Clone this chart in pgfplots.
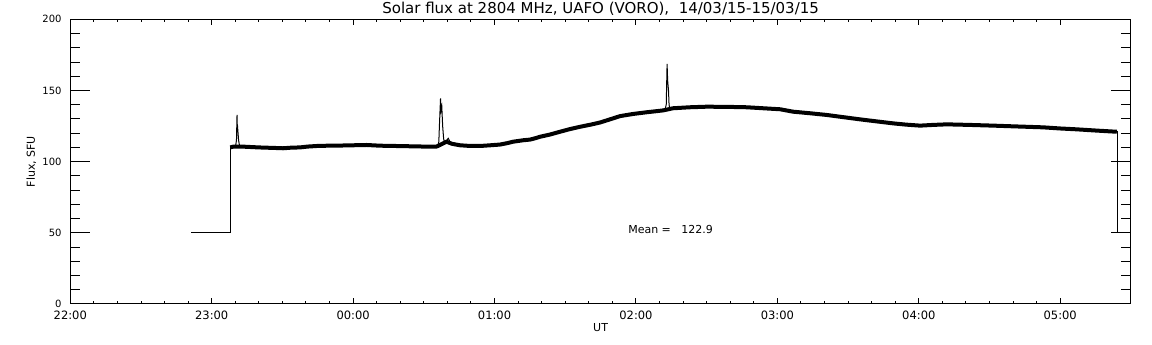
\documentclass[border=0pt]{standalone}
\usepackage{fontspec}
\setmainfont{DejaVu Sans}
\usepackage{pgfplots}
\pgfplotsset{compat=1.18}
\begin{document}
\begin{tikzpicture}
\pgfplotsset{
 every axis title shift=0pt,
 common/.style={
  scale only axis, width=1060.7pt, height=284.7pt,
  at={(0pt,0pt)}, anchor=south west,
  xmin=0, xmax=7.5, ymin=0, ymax=200,
  axis line style={line width=1pt, black},
  tick style={line width=1pt, black},
  tick align=inside, tick pos=both,
 }
}
\begin{axis}[common,
  xtick={0,...,7},
  xticklabels={22:00,23:00,00:00,01:00,02:00,03:00,04:00,05:00},
  minor x tick num=5,
  major tick length=6pt, minor tick length=2.7pt,
  ytick=\empty,
  xticklabel style={font=\fontsize{11.5}{13}\selectfont, anchor=base, inner sep=0pt, yshift=-16pt},
  title={Solar flux at 2804 MHz, UAFO (VORO),\ \ 14/03/15-15/03/15},
  title style={font=\fontsize{15}{17}\selectfont, at={(axis description cs:0.5,1)}, anchor=base, inner sep=0pt, yshift=5.8pt},
  xlabel={UT},
  xlabel style={font=\fontsize{11}{13}\selectfont, at={(axis description cs:0.5,-0.0843)}, anchor=center, inner sep=0pt},
  ylabel={Flux, SFU},
  ylabel style={font=\fontsize{11}{13}\selectfont, at={(axis description cs:-0.0368,0.5)}, anchor=center, inner sep=0pt},
]
% noisy band (drawn thick)
\addplot[black, line width=4pt, line join=round] coordinates {
(1.131,110) (1.151,110.5) (1.210,110.6) (1.271,110.3) (1.330,110.0) (1.389,109.8)
(1.450,109.6) (1.504,109.4) (1.560,109.8) (1.624,110.0) (1.680,110.6) (1.743,111.0)
(1.820,111.2) (1.907,111.3) (2.000,111.5) (2.096,111.7) (2.190,111.2) (2.300,111.0)
(2.402,110.8) (2.500,110.6) (2.586,110.5) (2.600,111) (2.660,114) (2.700,112.5)
(2.756,111.5) (2.830,111.0) (2.897,111.0) (2.970,111.5) (3.038,112.0) (3.090,113.0)
(3.131,114.0) (3.200,115.0) (3.251,115.5) (3.290,116.5) (3.322,117.5) (3.390,119.0)
(3.463,121.0) (3.530,122.8) (3.605,124.5) (3.680,126.0) (3.746,127.5) (3.800,129.2)
(3.838,130.4) (3.888,132.0) (3.980,133.5) (4.076,134.7) (4.140,135.4) (4.192,136.0)
(4.262,137.5) (4.380,138.2) (4.500,138.6) (4.640,138.5) (4.783,138.2) (4.900,137.5)
(5.019,136.8) (5.111,135.1) (5.230,134.0) (5.349,132.8) (5.470,131.2) (5.585,129.7)
(5.700,128.3) (5.818,126.9) (5.910,126.0) (6.009,125.3) (6.100,125.8) (6.198,126.2)
(6.360,125.8) (6.525,125.3) (6.700,124.7) (6.879,124.1) (7.000,123.3) (7.117,122.7)
(7.260,121.8) (7.400,121.0)
};
% thin parts: steps and spikes
\addplot[black, line width=1pt] coordinates {(0.856,50) (1.131,50) (1.131,110)};
\addplot[black, line width=1pt] coordinates {(1.168,110.5) (1.175,115) (1.179,132.8) (1.181,121) (1.184,123) (1.190,115) (1.197,111)};
\addplot[black, line width=1pt] coordinates {(2.598,110.8) (2.606,114) (2.610,125) (2.618,144.5) (2.622,136) (2.627,138.6) (2.633,125) (2.640,116) (2.645,114) (2.657,114.5) (2.673,116.4) (2.685,114) (2.721,112)};
\addplot[black, line width=1pt] coordinates {(4.205,136.5) (4.214,140) (4.220,168.6) (4.224,157) (4.230,150) (4.234,140) (4.238,138)};
\addplot[black, line width=1pt] coordinates {(7.400,121) (7.407,121) (7.407,50)};
\node[anchor=west, inner sep=0pt, font=\fontsize{11}{13}\selectfont] at (axis cs:3.944,52) {Mean =\ \ \ 122.9};
\end{axis}
\begin{axis}[common,
  xtick=\empty,
  ytick={0,50,...,200}, minor y tick num=4,
  major tick length=20pt, minor tick length=10pt,
  /pgf/number format/assume math mode=true,
  yticklabel style={font=\fontsize{10}{12}\selectfont, anchor=east, inner sep=0pt, xshift=-8.6pt},
]
\end{axis}
\pgfresetboundingbox
\path[use as bounding box] (-70.3pt,-41pt) rectangle (1081.7pt,304pt);
\end{tikzpicture}
\end{document}
